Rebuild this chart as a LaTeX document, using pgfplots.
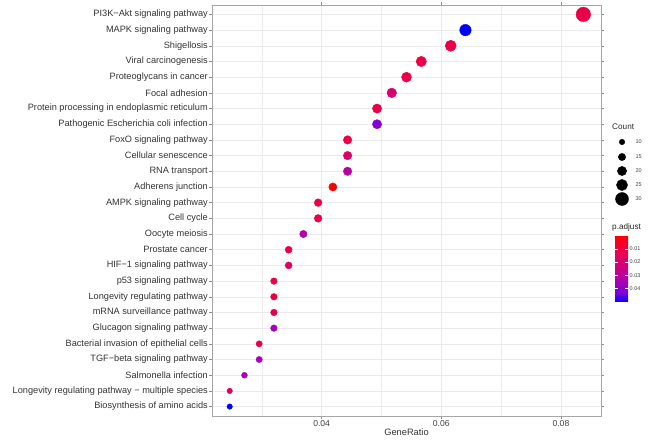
\documentclass[border=0pt]{standalone}
\usepackage{fontspec}
\setmainfont{Liberation Sans}
\usepackage{pgfplots}
\pgfplotsset{compat=1.18}
\usepackage{pgfplotstable}
\pgfkeys{/pgf/number format/assume math mode=true}
\pgfplotsset{colormap={rb}{rgb255=(255,0,0) rgb255=(244,0,49) rgb255=(231,0,79) rgb255=(218,0,108) rgb255=(201,0,136) rgb255=(181,0,165) rgb255=(154,0,194) rgb255=(113,0,224) rgb255=(0,0,255)}}

\pgfplotstableread{
y gr count padj
26 0.083744 34 0.0110
25 0.064039 26 0.0504
24 0.061576 25 0.0110
23 0.056650 23 0.0110
22 0.054187 22 0.0110
21 0.051724 21 0.0200
20 0.049261 20 0.0110
19 0.049261 20 0.0410
18 0.044335 18 0.0110
17 0.044335 18 0.0190
16 0.044335 18 0.0310
15 0.041872 17 0.0002
14 0.039409 16 0.0110
13 0.039409 16 0.0110
12 0.036946 15 0.0320
11 0.034483 14 0.0110
10 0.034483 14 0.0170
9 0.032020 13 0.0110
8 0.032020 13 0.0110
7 0.032020 13 0.0120
6 0.032020 13 0.0360
5 0.029557 12 0.0120
4 0.029557 12 0.0350
3 0.027094 11 0.0340
2 0.024631 10 0.0170
1 0.024631 10 0.0504
}\kegg

\pgfplotstableread{
x y count
622 298 10
622 283 15
622 269 20
622 255 25
622 241 30
}\sizeleg

\begin{document}
\begin{tikzpicture}
\path[use as bounding box] (0,0) rectangle (655pt,440pt);
\begin{axis}[
  at={(212pt,24pt)}, anchor=south west, scale only axis,
  width=389pt, height=411pt,
  xmin=0.02167, xmax=0.0867, ymin=0.4, ymax=26.6,
  xtick={0.04,0.06,0.08}, minor xtick={0.03,0.05,0.07},
  ytick={1,...,26},
  yticklabels={Biosynthesis of amino acids, Longevity regulating pathway − multiple species, Salmonella infection, TGF−beta signaling pathway, Bacterial invasion of epithelial cells, Glucagon signaling pathway, mRNA surveillance pathway, Longevity regulating pathway, p53 signaling pathway, HIF−1 signaling pathway, Prostate cancer, Oocyte meiosis, Cell cycle, AMPK signaling pathway, Adherens junction, RNA transport, Cellular senescence, FoxO signaling pathway, Pathogenic Escherichia coli infection, Protein processing in endoplasmic reticulum, Focal adhesion, Proteoglycans in cancer, Viral carcinogenesis, Shigellosis, MAPK signaling pathway, PI3K−Akt signaling pathway},
  grid=both,
  major grid style={black!8, line width=0.5pt},
  minor grid style={black!7, line width=0.35pt},
  axis line style={black!35, line width=0.6pt},
  tick align=outside, major tick length=3pt, minor tick length=0pt,
  tick style={black!45, line width=0.5pt},
  scaled x ticks=false,
  xticklabel={\pgfmathprintnumber[fixed,fixed zerofill,precision=2]{\tick}},
  xticklabel style={font=\fontsize{8.6}{9}\selectfont, text=black!75, inner sep=1pt},
  yticklabel style={font=\fontsize{9.2}{10}\selectfont, text=black!80, inner sep=1pt},
  xlabel={GeneRatio},
  xlabel style={font=\fontsize{9.3}{10}\selectfont, text=black!80, inner sep=1pt},
  colormap name=rb, point meta min=0.0002, point meta max=0.0504,
  colorbar,
  colorbar style={
    at={(1.036,0.438)}, anchor=north west,
    scale only axis, width=13pt, height=66pt,
    y dir=reverse,
    ytick={0.01,0.02,0.03,0.04},
    scaled y ticks=false,
    yticklabel={\pgfmathprintnumber[fixed,fixed zerofill,precision=2]{\tick}},
    yticklabel style={font=\fontsize{5.5}{6}\selectfont, text=black!75, inner sep=1.5pt},
    axis line style={draw=none},
    tick style={draw=white, line width=0.5pt}, major tick length=2.6pt, tick align=inside,
  },
]
\addplot[scatter, only marks, mark=*,
  scatter/use mapped color={draw=mapped color, fill=mapped color},
  visualization depends on={2.75+0.1875*(\thisrow{count}-10) \as \perpointmarksize},
  scatter/@pre marker code/.append style={/tikz/mark size=\perpointmarksize},
  point meta=\thisrow{padj}]
  table[x=gr, y=y] {\kegg};
\end{axis}
\begin{axis}[at={(0pt,0pt)}, anchor=south west, scale only axis,
  width=655pt, height=440pt, xmin=0, xmax=655, ymin=0, ymax=440,
  hide axis, clip=false]
\addplot[scatter, only marks, mark=*,
  scatter/use mapped color={draw=black, fill=black},
  visualization depends on={2.75+0.1875*(\thisrow{count}-10) \as \perpointmarksize},
  scatter/@pre marker code/.append style={/tikz/mark size=\perpointmarksize},
  point meta=y]
  table[x=x, y=y] {\sizeleg};
\node[anchor=west, font=\fontsize{5.5}{6}\selectfont, text=black!75] at (axis cs:632,298) {10};
\node[anchor=west, font=\fontsize{5.5}{6}\selectfont, text=black!75] at (axis cs:632,283) {15};
\node[anchor=west, font=\fontsize{5.5}{6}\selectfont, text=black!75] at (axis cs:632,269) {20};
\node[anchor=west, font=\fontsize{5.5}{6}\selectfont, text=black!75] at (axis cs:632,255) {25};
\node[anchor=west, font=\fontsize{5.5}{6}\selectfont, text=black!75] at (axis cs:632,241) {30};
\node[anchor=west, inner sep=0pt, font=\fontsize{8.2}{9}\selectfont, text=black!85] at (axis cs:612,313) {Count};
\node[anchor=west, inner sep=0pt, font=\fontsize{8.2}{9}\selectfont, text=black!85] at (axis cs:612,213) {p.adjust};
\end{axis}
\end{tikzpicture}
\end{document}
